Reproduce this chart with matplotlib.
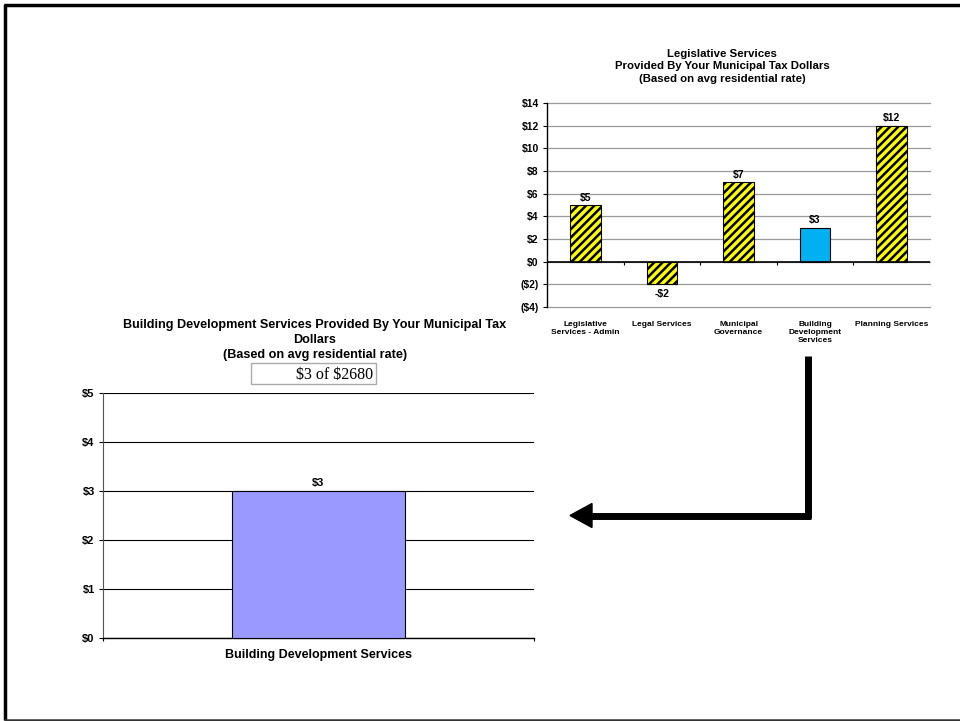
import matplotlib.pyplot as plt
from matplotlib.patches import Rectangle, Polygon

plt.rcParams['font.family'] = ['Liberation Sans', 'DejaVu Sans']
plt.rcParams['hatch.linewidth'] = 1.8

# data
top_categories = ['Legislative\nServices - Admin', 'Legal Services', 'Municipal\nGovernance',
                  'Building\nDevelopment\nServices', 'Planning Services']
top_values = [5, -2, 7, 3, 12]
top_labels = ['$5', '-$2', '$7', '$3', '$12']
top_ticks = [-4, -2, 0, 2, 4, 6, 8, 10, 12, 14]
top_ticklabels = ['($4)', '($2)', '$0', '$2', '$4', '$6', '$8', '$10', '$12', '$14']

bottom_category = ['Building Development Services']
bottom_value = [3]
bottom_ticks = [0, 1, 2, 3, 4, 5]
bottom_ticklabels = ['$0', '$1', '$2', '$3', '$4', '$5']

W, H = 960, 721
fig = plt.figure(figsize=(9.6, 7.21), dpi=100)

def fx(px):
    return px / W

def fy(py):
    return 1 - py / H

# ---- top chart ----
ax1 = fig.add_axes([fx(547), fy(307), fx(930) - fx(547), fy(103) - fy(307)])
xs = range(len(top_values))
for i, v in enumerate(top_values):
    if i == 3:
        ax1.bar(i, v, width=0.4, color='#00B0F0', edgecolor='black', linewidth=0.8, zorder=3)
    else:
        ax1.bar(i, v, width=0.4, color='#FFFF00', edgecolor='black', hatch='////',
                linewidth=0.8, zorder=3)
    off = 0.2 if v >= 0 else -0.4
    ax1.text(i, v + off, top_labels[i], ha='center', va='bottom' if v >= 0 else 'top',
             fontsize=7.5, fontweight='bold')
ax1.set_xlim(-0.5, 4.5)
ax1.set_ylim(-4, 14)
ax1.set_yticks(top_ticks)
ax1.set_yticklabels(top_ticklabels, fontsize=7.5, fontweight='bold')
ax1.set_xticks(list(xs))
ax1.set_xticklabels(top_categories, fontsize=6, fontweight='bold', va='top', linespacing=1.25)
ax1.tick_params(axis='x', length=0, pad=10)
ax1.tick_params(axis='y', length=3, width=0.8, pad=3)
ax1.yaxis.grid(True, color='#999999', linewidth=0.9, zorder=0, clip_on=False)
ax1.axhline(0, color='black', linewidth=1.2, zorder=4)
ax1.vlines([0.5, 1.5, 2.5, 3.5, 4.5], -0.25, 0, color='black', linewidth=0.8, zorder=4)
for s in ['top', 'right', 'bottom']:
    ax1.spines[s].set_visible(False)
ax1.spines['left'].set_linewidth(1.0)

fig.text(fx(722), fy(49), 'Legislative Services\nProvided By Your Municipal Tax Dollars\n(Based on avg residential rate)',
         ha='center', va='top', fontsize=8.2, fontweight='bold', linespacing=1.3)

# ---- bottom chart ----
ax2 = fig.add_axes([fx(103), fy(638), fx(534) - fx(103), fy(393) - fy(638)])
ax2.bar([0], bottom_value, width=0.4, color='#9999FF', edgecolor='black', linewidth=0.8, zorder=3)
ax2.text(0, bottom_value[0] + 0.07, '$3', ha='center', va='bottom', fontsize=8, fontweight='bold')
ax2.set_xlim(-0.5, 0.5)
ax2.set_ylim(0, 5)
ax2.set_yticks(bottom_ticks)
ax2.set_yticklabels(bottom_ticklabels, fontsize=8, fontweight='bold')
ax2.set_xticks([0])
ax2.set_xticklabels(bottom_category, fontsize=9, fontweight='bold')
ax2.tick_params(axis='x', length=0, pad=8)
ax2.tick_params(axis='y', length=3, width=0.8, pad=3)
ax2.yaxis.grid(True, color='black', linewidth=0.8, zorder=0)
for s in ['top', 'right']:
    ax2.spines[s].set_visible(False)
ax2.spines['left'].set_color('#555555')
ax2.spines['bottom'].set_linewidth(1.0)
ax2.vlines([-0.5, 0.5], -0.06, 0, color='black', linewidth=0.8, clip_on=False)

fig.text(fx(315), fy(319), 'Building Development Services Provided By Your Municipal Tax\nDollars\n(Based on avg residential rate)',
         ha='center', va='top', fontsize=9.1, fontweight='bold', linespacing=1.32)

# ---- overlay: frame, text box, arrow ----
ov = fig.add_axes([0, 0, 1, 1], zorder=-1)
ov.set_xlim(0, W)
ov.set_ylim(H, 0)
ov.axis('off')
ov.add_patch(Rectangle((251, 363), 125, 21, facecolor='white', edgecolor='#AAAAAA', linewidth=1.0))
ov2 = fig.add_axes([0, 0, 1, 1], zorder=5)
ov2.set_xlim(0, W)
ov2.set_ylim(H, 0)
ov2.axis('off')
ov2.patch.set_alpha(0)
ov2.text(373, 375, r'\$3 of \$2680', ha='right', va='center', fontsize=11.5,
         family=['Liberation Serif', 'DejaVu Serif'])

# frame
ov2.plot([4, 960], [4.5, 4.5], color='black', linewidth=2.5, solid_capstyle='butt')
ov2.plot([4.5, 4.5], [4, 720], color='black', linewidth=2.5, solid_capstyle='butt')
ov2.plot([4, 960], [719.5, 719.5], color='#333333', linewidth=1.8, solid_capstyle='butt')

# arrow
ov2.plot([808, 808], [356, 518], color='black', linewidth=5, solid_capstyle='butt')
ov2.plot([810.5, 590], [515.5, 515.5], color='black', linewidth=5, solid_capstyle='butt')
ov2.add_patch(Polygon([[570, 515.5], [592, 503.5], [592, 527.5]], closed=True, color='black'))

fig.savefig('out.png', dpi=100)
